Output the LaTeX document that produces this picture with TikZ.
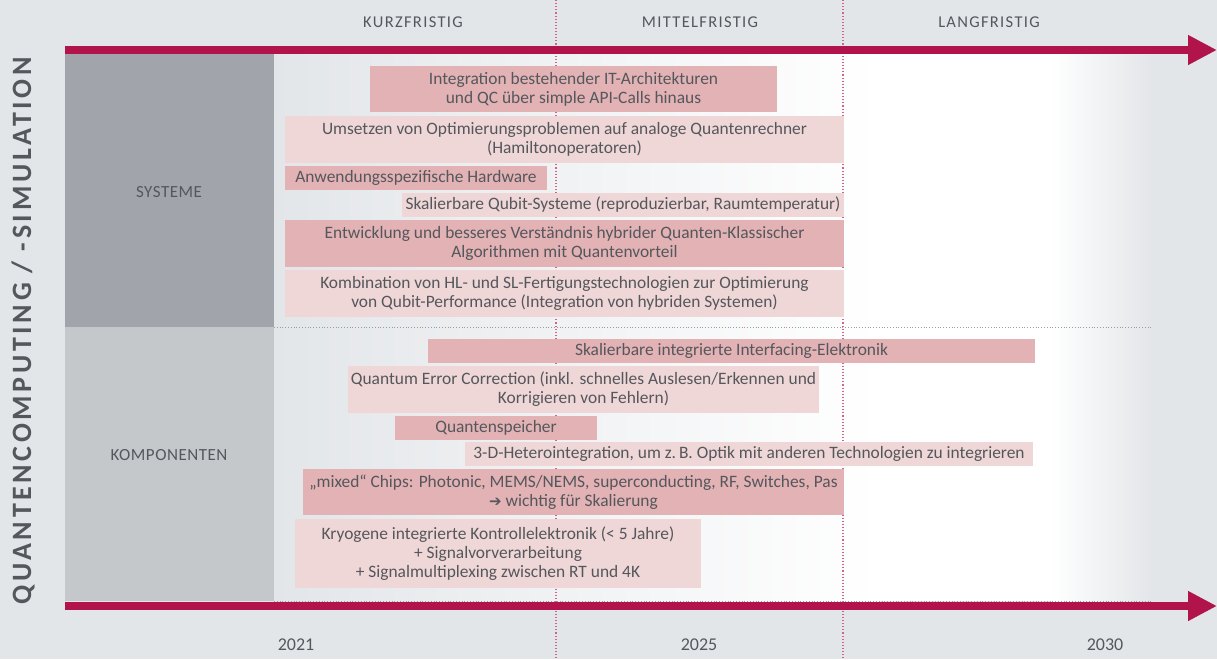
\documentclass[tikz,border=0pt]{standalone}
\usepackage{fontspec}
\setmainfont{Carlito}
\newfontfamily\spaced[LetterSpace=8]{Carlito}
\newfontfamily\rowfont[LetterSpace=3]{Carlito}
\newfontfamily\titlefont[LetterSpace=13]{Carlito}
\newfontfamily\symfont{DejaVu Sans}
\usetikzlibrary{arrows.meta}
\definecolor{bg}{HTML}{E3E6E9}
\definecolor{crimson}{HTML}{B0144A}
\definecolor{colTop}{HTML}{A1A5AB}
\definecolor{colBot}{HTML}{C5C8CB}
\definecolor{barD}{HTML}{E2B2B5}
\definecolor{barL}{HTML}{EFD6D7}
\definecolor{txt}{HTML}{54575C}
\definecolor{dotred}{HTML}{D0648A}
\definecolor{dotgray}{HTML}{9A9C9F}
\tikzset{
  barbase/.style={anchor=north west, inner sep=0pt, outer sep=0pt, align=center,
    text=txt, font=\fontsize{17.4}{19}\selectfont},
  dark/.style={barbase, fill=barD},
  light/.style={barbase, fill=barL},
  axis/.style={crimson, line width=8pt, -{Triangle[length=29pt,width=28pt]}},
  phase/.style={text=txt, font=\fontsize{16.5}{18}\selectfont\spaced},
  yearlbl/.style={text=txt, font=\fontsize{18}{20}\selectfont},
  rowlbl/.style={text=txt, font=\fontsize{17}{18}\selectfont\rowfont},
  vdots/.style={dotred, dotted, line width=1.1pt},
  hdots/.style={dotgray, dotted, line width=0.8pt}
}
\begin{document}
\begin{tikzpicture}[x=1pt,y=-1pt]
\fill[bg] (0,0) rectangle (1217,659);
\useasboundingbox (0,0) rectangle (1217,659);
% plot area background
\shade[left color=bg, right color=white] (274,54) rectangle (880,601);
\fill[white] (879,54) rectangle (1051,601);
\shade[left color=white, right color=bg] (1050,54) rectangle (1152,601);
% row headers
\fill[colTop] (65,54) rectangle (274,327);
\fill[colBot] (65,327) rectangle (274,601);
\node[rowlbl] (sys) at (169,192) {SYSTEME};
\node[rowlbl] (komp) at (169,455) {KOMPONENTEN};
% dotted guides
\coordinate (v1t) at (556,0); \coordinate (v1b) at (556,659);
\coordinate (v2t) at (843,0); \coordinate (v2b) at (843,659);
\draw[vdots] (v1t) -- (v1b);
\draw[vdots] (v2t) -- (v2b);
\coordinate (h1a) at (274,327); \coordinate (h1b) at (1152,327);
\coordinate (h2a) at (274,601); \coordinate (h2b) at (1152,601);
\draw[hdots] (h1a) -- (h1b);
\draw[hdots] (h2a) -- (h2b);
% axes
\coordinate (ta) at (65,50); \coordinate (tb) at (1217,50);
\coordinate (ba) at (65,606); \coordinate (bb) at (1217,606);
\draw[axis] (ta) -- (tb);
\draw[axis] (ba) -- (bb);
% phase labels
\node[phase] (kurz) at (413,22) {KURZFRISTIG};
\node[phase] (mittel) at (700,22) {MITTELFRISTIG};
\node[phase] (lang) at (989,22) {LANGFRISTIG};
% years
\node[yearlbl] (y21) at (296,645) {2021};
\node[yearlbl] (y25) at (699,645) {2025};
\node[yearlbl] (y30) at (1105,645) {2030};
% title
\node[rotate=90, text=txt, font=\fontsize{28}{30}\selectfont\titlefont\bfseries] (title) at (23,331) {QUANTENCOMPUTING / -SIMULATION};
% bars
\node[dark, minimum width=407pt, minimum height=46pt] (b1) at (370,66) {Integration bestehender IT-Architekturen\\und QC über simple API-Calls hinaus};
\node[light, minimum width=559pt, minimum height=47pt] (b2) at (285,116) {Umsetzen von Optimierungsproblemen auf analoge Quantenrechner\\(Hamiltonoperatoren)};
\node[dark, minimum width=262pt, minimum height=24pt] (b3) at (285,166) {Anwendungsspezifische Hardware};
\node[light, minimum width=442pt, minimum height=24pt] (b4) at (402,193) {Skalierbare Qubit-Systeme (reproduzierbar, Raumtemperatur)};
\node[dark, minimum width=559pt, minimum height=47pt] (b5) at (285,220) {Entwicklung und besseres Verständnis hybrider Quanten-Klassischer\\Algorithmen mit Quantenvorteil};
\node[light, minimum width=559pt, minimum height=47pt] (b6) at (285,270) {Kombination von HL- und SL-Fertigungstechnologien zur Optimierung\\von Qubit-Performance (Integration von hybriden Systemen)};
\node[dark, minimum width=607pt, minimum height=24pt] (b7) at (428,339) {Skalierbare integrierte Interfacing-Elektronik};
\node[light, minimum width=471pt, minimum height=47pt] (b8) at (348,366) {Quantum Error Correction (inkl. schnelles Auslesen/Erkennen und\\Korrigieren von Fehlern)};
\node[dark, minimum width=202pt, minimum height=24pt] (b9) at (395,416) {Quantenspeicher};
\node[light, minimum width=568pt, minimum height=24pt] (b10) at (465,442) {3-D-Heterointegration, um z.\,B. Optik mit anderen Technologien zu integrieren};
\node[dark, minimum width=541pt, minimum height=46pt] (b11) at (303,469) {„mixed“ Chips: Photonic, MEMS/NEMS, superconducting, RF, Switches, Pas\\{\symfont\fontsize{15}{18}\selectfont ➔} wichtig für Skalierung};
\node[light, minimum width=406pt, minimum height=69pt] (b12) at (295,519) {Kryogene integrierte Kontrollelektronik (< 5 Jahre)\\+ Signalvorverarbeitung\\+ Signalmultiplexing zwischen RT und 4K};
\end{tikzpicture}
\end{document}
